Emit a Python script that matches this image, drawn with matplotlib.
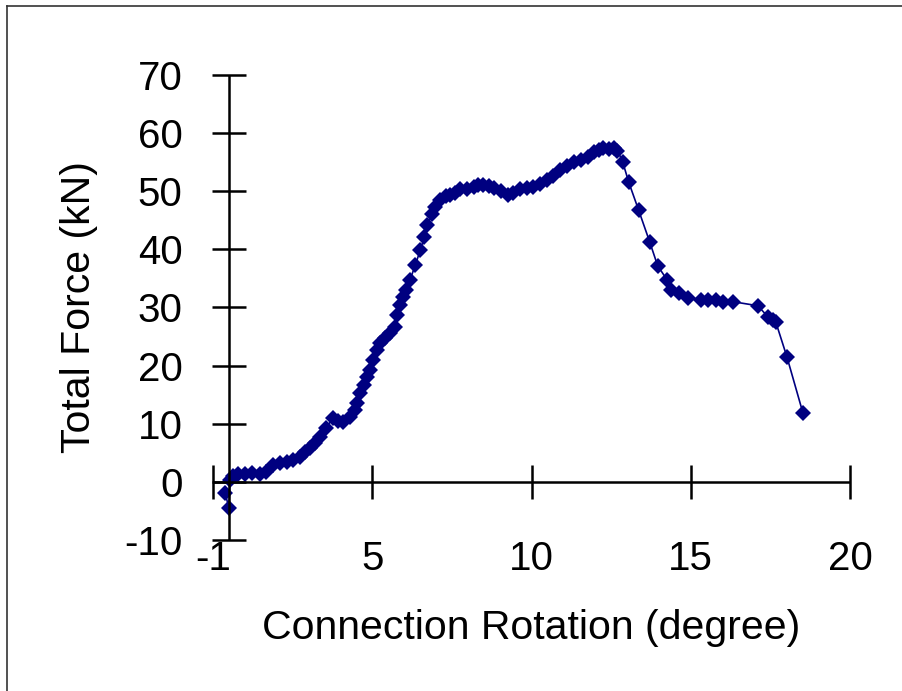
"""
Connection rotation vs total force curve (moment-rotation style test plot).
"""

import matplotlib
matplotlib.use("Agg")
import matplotlib.pyplot as plt
from matplotlib.lines import Line2D

# ============================================================
# Data
# ============================================================

rotation_deg = [
    0.38, 0.50, 0.53, 0.63, 0.79, 1.00, 1.23, 1.48, 1.67, 1.89,
    2.10, 2.33, 2.52, 2.74, 2.89, 3.05, 3.21, 3.36, 3.55, 3.77,
    3.93, 4.09, 4.31, 4.47, 4.53, 4.62, 4.75, 4.84, 4.94, 5.03,
    5.16, 5.25, 5.41, 5.57, 5.72, 5.79, 5.88, 5.97, 6.07, 6.19,
    6.35, 6.51, 6.64, 6.73, 6.86, 6.98, 7.14, 7.30, 7.45, 7.61,
    7.77, 7.96, 8.18, 8.33, 8.49, 8.65, 8.81, 9.03, 9.25, 9.43,
    9.65, 9.87, 10.06, 10.28, 10.50, 10.69, 10.91, 11.13, 11.32, 11.54,
    11.76, 11.95, 12.11, 12.26, 12.42, 12.58, 12.70, 12.86, 13.05, 13.36,
    13.71, 13.96, 14.25, 14.37, 14.62, 14.91, 15.31, 15.53, 15.79, 16.01,
    16.32, 17.11, 17.42, 17.58, 17.67, 18.02, 18.52,
]

total_force_kn = [
    -1.9, -4.5, 0.3, 1.0, 1.4, 1.4, 1.5, 1.4, 1.7, 2.9,
    3.3, 3.4, 3.8, 4.3, 5.2, 5.9, 6.7, 7.7, 9.3, 11.0,
    10.5, 10.3, 11.2, 12.4, 13.6, 15.3, 16.7, 18.1, 19.3, 21.0,
    22.7, 23.9, 24.8, 25.6, 26.7, 28.7, 30.5, 31.8, 33.0, 34.8,
    37.3, 39.9, 42.2, 44.2, 46.0, 47.3, 48.5, 49.1, 49.4, 49.7,
    50.3, 50.4, 50.8, 51.1, 51.1, 50.9, 50.6, 50.1, 49.4, 49.7,
    50.3, 50.6, 50.8, 51.3, 52.0, 52.7, 53.7, 54.4, 55.1, 55.4,
    55.9, 56.8, 57.1, 57.5, 57.3, 57.5, 57.0, 55.1, 51.6, 46.8,
    41.3, 37.2, 34.8, 33.0, 32.5, 31.7, 31.3, 31.3, 31.3, 31.0,
    31.0, 30.3, 28.4, 27.9, 27.5, 21.5, 11.9,
]

x_ticks = [0, 5, 10, 15, 20]
x_tick_labels = ["-1", "5", "10", "15", "20"]
y_ticks = [-10, 0, 10, 20, 30, 40, 50, 60, 70]


# ============================================================
# Plot
# ============================================================

def main() -> None:
    plt.rcParams["font.family"] = ["Liberation Sans", "DejaVu Sans"]
    plt.rcParams["axes.unicode_minus"] = False

    fig = plt.figure(figsize=(9.03, 6.91), dpi=100)
    ax = fig.add_axes([0.2359, 0.2185, 0.7054, 0.673])

    ax.plot(rotation_deg, total_force_kn, color="#000080", linewidth=1.2,
            marker="D", markersize=8.2, markeredgewidth=0)

    ax.set_xlim(0, 20)
    ax.set_ylim(-10, 70)

    # axes cross inside the plot, Excel style
    ax.spines["top"].set_visible(False)
    ax.spines["right"].set_visible(False)
    ax.spines["left"].set_position(("data", 0.5))
    ax.spines["bottom"].set_position(("data", 0))
    for side in ("left", "bottom"):
        ax.spines[side].set_linewidth(1.8)
        ax.spines[side].set_capstyle("butt")

    ax.set_xticks(x_ticks)
    ax.set_xticklabels([])
    ax.set_yticks(y_ticks)
    ax.tick_params(axis="both", direction="inout", length=25, width=1.8,
                   labelsize=29)
    ax.tick_params(axis="y", pad=21)

    # x tick labels sit below the plot area, not on the y=0 axis line
    for xt, lab in zip(x_ticks, x_tick_labels):
        ax.text(xt, 0.0, lab, transform=ax.get_xaxis_transform(),
                ha="center", va="top", fontsize=29)

    ax.set_xlabel("Connection Rotation (degree)", fontsize=29.5)
    ax.set_ylabel("Total Force (kN)", fontsize=29.5)
    ax.xaxis.set_label_coords(0.5, -0.148)
    ax.yaxis.set_label_coords(-0.18, 0.5)

    # figure frame (only left and top edges visible in the source crop)
    fig.add_artist(Line2D([7 / 903, 7 / 903], [0, 1 - 6 / 691], color="#333333",
                          linewidth=1.2, transform=fig.transFigure))
    fig.add_artist(Line2D([7 / 903, 1], [1 - 6 / 691, 1 - 6 / 691], color="#333333",
                          linewidth=1.2, transform=fig.transFigure))

    fig.savefig("out.png", dpi=100)


if __name__ == "__main__":
    main()
